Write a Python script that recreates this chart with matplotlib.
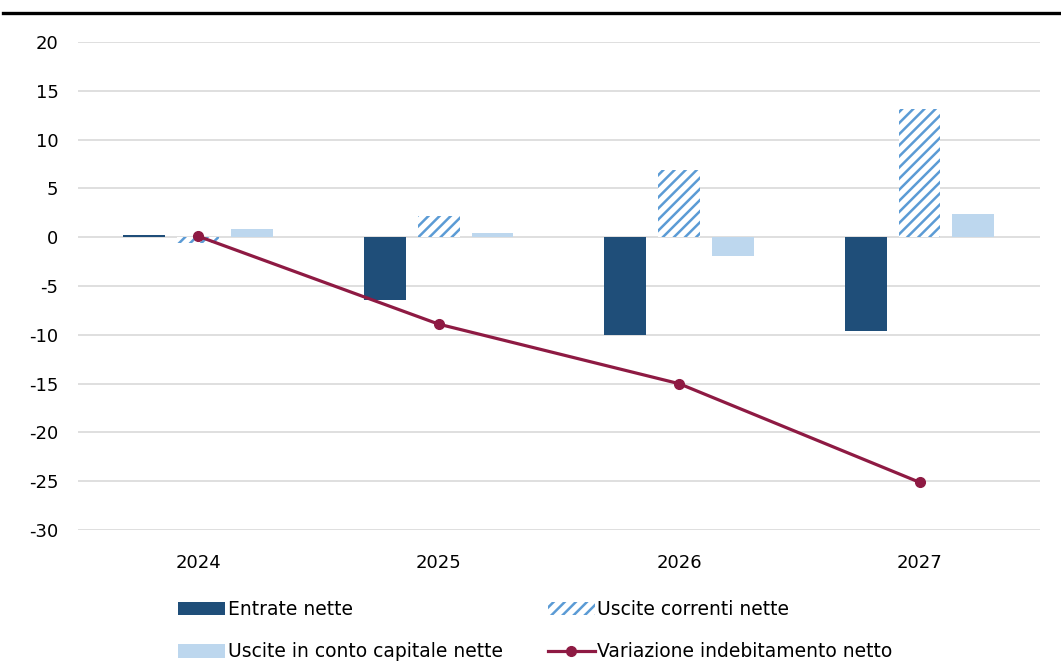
import numpy as np
import matplotlib.pyplot as plt
from matplotlib.patches import Patch
from matplotlib.lines import Line2D

# values
anni = ["2024", "2025", "2026", "2027"]
entrate_nette = [0.2, -6.4, -10.0, -9.6]
uscite_correnti = [-0.6, 2.2, 6.9, 13.1]
uscite_capitale = [0.8, 0.4, -1.9, 2.4]
variazione_indeb = [0.1, -8.9, -15.0, -25.1]
y_ticks = [20, 15, 10, 5, 0, -5, -10, -15, -20, -25, -30]

c_entrate = "#1F4E79"
c_correnti = "#5B9BD5"
c_capitale = "#BDD7EE"
c_linea = "#8E1A43"

plt.rcParams["font.family"] = "DejaVu Sans"
plt.rcParams["axes.unicode_minus"] = False
plt.rcParams["hatch.linewidth"] = 1.8
plt.rcParams["hatch.color"] = c_correnti

fig = plt.figure(figsize=(10.61, 6.61), dpi=100)
ax = fig.add_axes([0.0735, 0.198, 0.9065, 0.7385])

x = np.arange(len(anni))
w = 0.174
off = 0.224

ax.bar(x - off, entrate_nette, w, color=c_entrate, zorder=2)
ax.bar(x, uscite_correnti, w, facecolor="white", edgecolor=c_correnti,
       hatch="///", linewidth=0, zorder=2)
ax.bar(x + off, uscite_capitale, w, color=c_capitale, zorder=2)
ax.plot(x, variazione_indeb, color=c_linea, lw=2.3, marker="o", ms=7, zorder=3)

ax.set_xlim(-0.5, len(anni) - 0.5)
ax.set_ylim(-30, 20)
ax.set_yticks(y_ticks)
ax.set_xticks(x)
ax.set_xticklabels(anni)
ax.yaxis.grid(True, color="#D9D9D9", lw=1.2, zorder=0)
ax.set_axisbelow(True)
for s in ax.spines.values():
    s.set_visible(False)
ax.tick_params(length=0, labelsize=13, colors="#000000")
ax.tick_params(axis="y", pad=14)
ax.tick_params(axis="x", pad=17)

# thick rule at the top of the figure
fig.add_artist(Line2D([0.003, 1.0], [1 - 13 / 661] * 2, color="black", lw=2.4))

handles = [
    Patch(facecolor=c_entrate, label="Entrate nette"),
    Patch(facecolor=c_capitale, label="Uscite in conto capitale nette"),
    Patch(facecolor="white", edgecolor=c_correnti, hatch="///", linewidth=0,
          label="Uscite correnti nette"),
    Line2D([], [], color=c_linea, lw=2.3, marker="o", ms=7,
           label="Variazione indebitamento netto"),
]
fig.legend(handles=handles, ncol=2, loc="upper left",
           bbox_to_anchor=(178 / 1061, 1 - 600 / 661), frameon=False,
           fontsize=13.5, borderpad=0, borderaxespad=0, handlelength=2.5,
           handleheight=0.75, handletextpad=0.15, columnspacing=2.4,
           labelspacing=1.25)

fig.savefig("out.png", dpi=100)
